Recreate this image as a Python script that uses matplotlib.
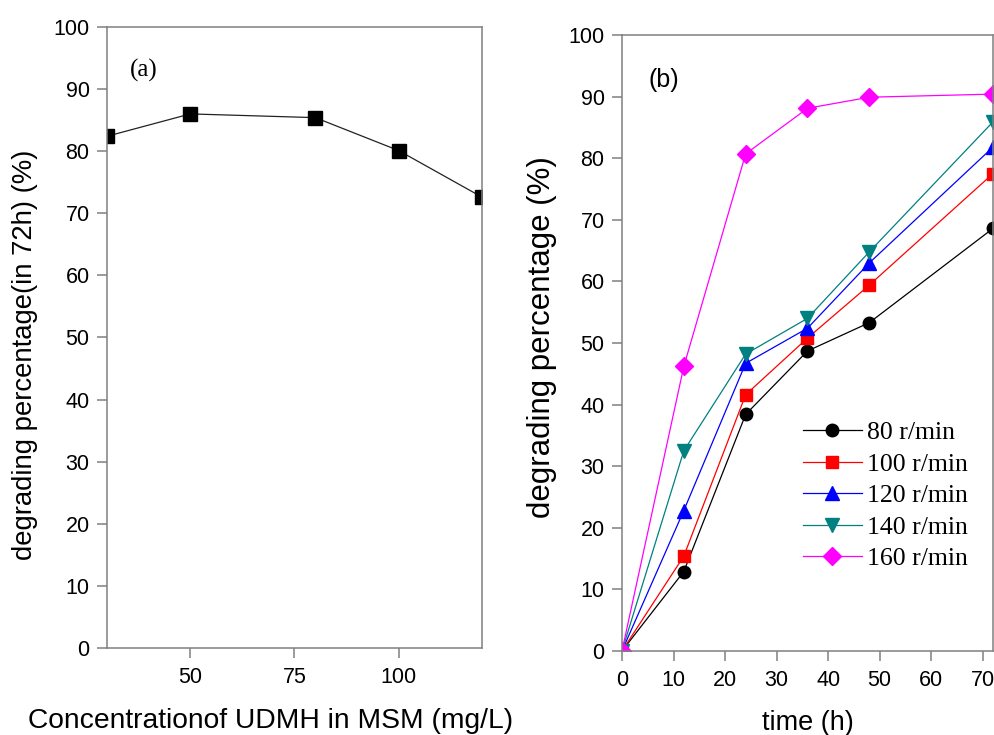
import matplotlib
matplotlib.use('Agg')

import matplotlib.pyplot as plt

# Panel (a): degradation in 72h vs UDMH concentration
conc = [30, 50, 80, 100, 120]
degr_72h = [82.4, 86.0, 85.4, 80.1, 72.6]

# Panel (b): degradation over time at different shaking speeds
time_h = [0, 12, 24, 36, 48, 72]
speed_labels = ['80 r/min', '100 r/min', '120 r/min', '140 r/min', '160 r/min']
rpm_80 = [0, 12.9, 38.4, 48.7, 53.3, 68.6]
rpm_100 = [0, 15.4, 41.6, 50.8, 59.4, 77.5]
rpm_120 = [0, 22.8, 46.7, 52.4, 63.0, 81.8]
rpm_140 = [0, 32.5, 48.2, 54.0, 64.8, 85.9]
rpm_160 = [0, 46.2, 80.7, 88.1, 89.9, 90.4]

series = [rpm_80, rpm_100, rpm_120, rpm_140, rpm_160]
colors = ['black', '#ff0000', '#0000ff', '#008080', '#ff00ff']
markers = ['o', 's', '^', 'v', 'D']
msizes = [9, 8.5, 10, 10, 9]

sans = ['Liberation Sans', 'DejaVu Sans']
serif = ['Liberation Serif', 'DejaVu Serif']
plt.rcParams['font.family'] = sans
spine_col = '#808080'

fig = plt.figure(figsize=(9.95, 7.35), dpi=100)
ax_a = fig.add_axes([0.1075, 0.1184, 0.3769, 0.8449])
ax_b = fig.add_axes([0.6251, 0.1143, 0.3729, 0.8381])


def style_axes(ax):
    for sp in ax.spines.values():
        sp.set_color(spine_col)
        sp.set_linewidth(1.1)
    ax.tick_params(direction='out', length=7.5, width=1.1, color=spine_col,
                   labelsize=15.5, labelcolor='black')
    ax.tick_params(axis='y', pad=5)
    ax.tick_params(axis='x', pad=6)


# (a)
ax_a.plot(conc, degr_72h, color='#222222', lw=0.9, marker='s', ms=10,
          mfc='black', mec='black')
ax_a.set_xlim(30, 120)
ax_a.set_ylim(0, 100)
ax_a.set_xticks([50, 75, 100])
ax_a.set_yticks(range(0, 101, 10))
style_axes(ax_a)
ax_a.set_xlabel('Concentrationof UDMH in MSM (mg/L)', fontsize=20.3)
ax_a.set_ylabel('degrading percentage(in 72h) (%)', fontsize=19.8)
ax_a.xaxis.set_label_coords(0.435, -0.097)
ax_a.yaxis.set_label_coords(-0.184, 0.472)
ax_a.text(0.061, 0.93, '(a)', transform=ax_a.transAxes, fontsize=18,
          family=serif, va='center', ha='left')

# (b)
for vals, lab, c, m, s in zip(series, speed_labels, colors, markers, msizes):
    ax_b.plot(time_h, vals, color=c, lw=0.9, marker=m, ms=s, mfc=c, mec=c,
              label=lab)
ax_b.set_xlim(0, 72)
ax_b.set_ylim(0, 100)
ax_b.set_xticks(range(0, 71, 10))
ax_b.set_yticks(range(0, 101, 10))
style_axes(ax_b)
ax_b.set_xlabel('time (h)', fontsize=19.5)
ax_b.set_ylabel('degrading percentage (%)', fontsize=22.5)
ax_b.xaxis.set_label_coords(0.5, -0.096)
ax_b.yaxis.set_label_coords(-0.175, 0.509)
ax_b.text(0.072, 0.927, '(b)', transform=ax_b.transAxes, fontsize=18,
          va='center', ha='left')
ax_b.legend(loc='upper left', bbox_to_anchor=(0.487, 0.373), frameon=False,
            prop={'family': serif, 'size': 18.5}, handlelength=2.3,
            handletextpad=0.2, labelspacing=0.33, borderpad=0,
            borderaxespad=0)

fig.savefig('out.png', dpi=100)
